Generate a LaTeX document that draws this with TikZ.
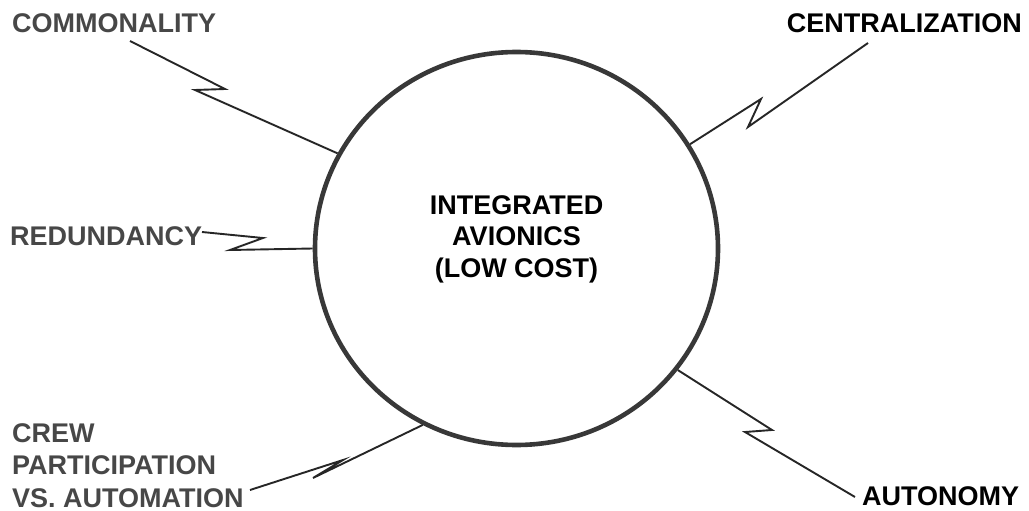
\documentclass[tikz,border=0pt]{standalone}
\usepackage{fontspec}
\setmainfont{Liberation Sans}
\usetikzlibrary{shapes.geometric}
\begin{document}
\begin{tikzpicture}[x=1pt,y=-1pt,
  label/.style={inner sep=0pt, font=\fontsize{27}{32.5}\selectfont\bfseries},
  soft/.style={text=black!72},
  bolt/.style={draw=black!85, line width=1.9pt, line join=miter},
  hubshape/.style={ellipse, draw=black!78, line width=4.6pt,
    minimum width=403pt, minimum height=393pt, inner sep=0pt}]
  \useasboundingbox (0,0) rectangle (1029,511);

  % central element
  \node[hubshape] (hub) at (516.5,248.5) {};
  \node[label, align=center, anchor=north,
        font=\fontsize{27}{31.5}\selectfont\bfseries] (core) at (516.5,195)
        {INTEGRATED\\AVIONICS\\(LOW COST)};

  % surrounding attributes
  \node[label, soft, anchor=base west] (commonality) at (12,33) {COMMONALITY};
  \node[label, anchor=base east] (centralization) at (1022,33) {CENTRALIZATION};
  \node[label, soft, anchor=base west] (redundancy) at (10,245) {REDUNDANCY};
  \node[label, soft, anchor=north west, align=left] (crew) at (12,423)
        {CREW\\PARTICIPATION\\VS. AUTOMATION};
  \node[label, anchor=base west] (autonomy) at (862,505) {AUTONOMY};

  % zig-zag links
  \coordinate (cm0) at (130,41);  \coordinate (cm1) at (225,89);  \coordinate (cm2) at (195,90);
  \coordinate (ce0) at (868,43);  \coordinate (ce1) at (748,127); \coordinate (ce2) at (761,99);
  \coordinate (rd0) at (202,232); \coordinate (rd1) at (263,238); \coordinate (rd2) at (230,250);
  \coordinate (cr0) at (250,490); \coordinate (cr1) at (343,460); \coordinate (cr2) at (313,478);
  \coordinate (au0) at (855,497); \coordinate (au1) at (745,432); \coordinate (au2) at (772,430);

  \draw[bolt] (cm0) -- (cm1) -- (cm2) -- (hub.152.3);
  \draw[bolt] (ce0) -- (ce1) -- (ce2) -- (hub.31);
  \draw[bolt] (rd0) -- (rd1) -- (rd2) -- (hub.180.8);
  \draw[bolt] (cr0) -- (cr1) -- (cr2) -- (hub.242.3);
  \draw[bolt] (au0) -- (au1) -- (au2) -- (hub.323.9);
\end{tikzpicture}
\end{document}
